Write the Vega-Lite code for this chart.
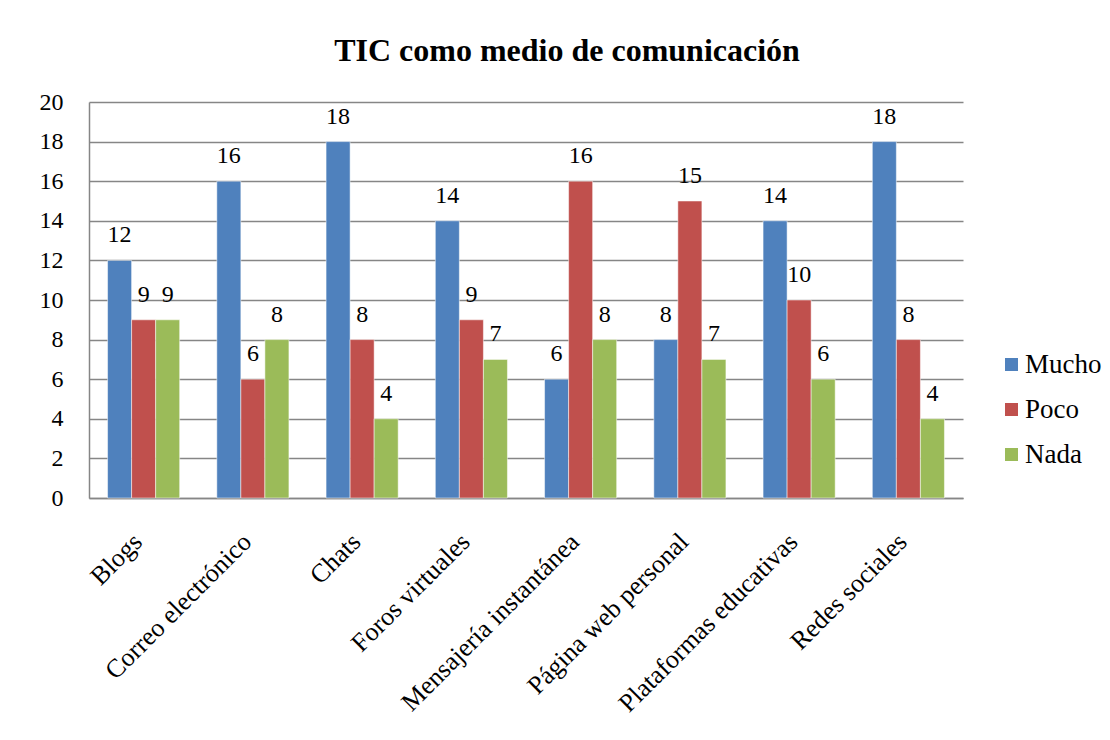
{
  "$schema": "https://vega.github.io/schema/vega-lite/v6.json",
  "width": 874,
  "height": 396,
  "autosize": {"type": "none"},
  "padding": {"left": 89, "top": 102, "right": 147, "bottom": 242},
  "background": "white",
  "title": {
    "text": "TIC como medio de comunicación",
    "font": "Liberation Serif",
    "fontSize": 32,
    "fontWeight": "bold",
    "color": "black",
    "anchor": "middle",
    "dx": 41,
    "offset": 22
  },
  "data": {
    "values": [
      {"cat": "Blogs", "serie": "Mucho", "v": 12},
      {"cat": "Blogs", "serie": "Poco", "v": 9},
      {"cat": "Blogs", "serie": "Nada", "v": 9},
      {"cat": "Correo electrónico", "serie": "Mucho", "v": 16},
      {"cat": "Correo electrónico", "serie": "Poco", "v": 6},
      {"cat": "Correo electrónico", "serie": "Nada", "v": 8},
      {"cat": "Chats", "serie": "Mucho", "v": 18},
      {"cat": "Chats", "serie": "Poco", "v": 8},
      {"cat": "Chats", "serie": "Nada", "v": 4},
      {"cat": "Foros virtuales", "serie": "Mucho", "v": 14},
      {"cat": "Foros virtuales", "serie": "Poco", "v": 9},
      {"cat": "Foros virtuales", "serie": "Nada", "v": 7},
      {"cat": "Mensajería instantánea", "serie": "Mucho", "v": 6},
      {"cat": "Mensajería instantánea", "serie": "Poco", "v": 16},
      {"cat": "Mensajería instantánea", "serie": "Nada", "v": 8},
      {"cat": "Página web personal", "serie": "Mucho", "v": 8},
      {"cat": "Página web personal", "serie": "Poco", "v": 15},
      {"cat": "Página web personal", "serie": "Nada", "v": 7},
      {"cat": "Plataformas educativas", "serie": "Mucho", "v": 14},
      {"cat": "Plataformas educativas", "serie": "Poco", "v": 10},
      {"cat": "Plataformas educativas", "serie": "Nada", "v": 6},
      {"cat": "Redes sociales", "serie": "Mucho", "v": 18},
      {"cat": "Redes sociales", "serie": "Poco", "v": 8},
      {"cat": "Redes sociales", "serie": "Nada", "v": 4}
    ]
  },
  "encoding": {
    "x": {
      "field": "cat",
      "type": "nominal",
      "sort": null,
      "title": null,
      "scale": {"paddingInner": 0.34, "paddingOuter": 0.17},
      "axis": {
        "labelAngle": -45,
        "labelFont": "Liberation Serif",
        "labelFontSize": 26,
        "labelColor": "black",
        "labelBaseline": "alphabetic",
        "labelPadding": 45,
        "ticks": false,
        "domainColor": "#868686",
        "domainWidth": 1.5,
        "grid": false,
        "labelLimit": 400
      }
    },
    "xOffset": {
      "field": "serie",
      "type": "nominal",
      "sort": ["Mucho", "Poco", "Nada"],
      "scale": {"paddingInner": 0, "paddingOuter": 0}
    },
    "y": {
      "field": "v",
      "type": "quantitative",
      "title": null,
      "scale": {"domain": [0, 20], "nice": false},
      "axis": {
        "values": [0, 2, 4, 6, 8, 10, 12, 14, 16, 18, 20],
        "labelFont": "Liberation Serif",
        "labelFontSize": 24,
        "labelColor": "black",
        "labelPadding": 26,
        "ticks": false,
        "domainColor": "#868686",
        "domainWidth": 1.5,
        "gridColor": "#868686",
        "gridWidth": 1.5
      }
    }
  },
  "layer": [
    {
      "mark": {"type": "bar", "stroke": "white", "strokeWidth": 0.5},
      "encoding": {
        "color": {
          "field": "serie",
          "type": "nominal",
          "sort": ["Mucho", "Poco", "Nada"],
          "title": null,
          "scale": {"domain": ["Mucho", "Poco", "Nada"], "range": ["#4F81BD", "#C0504D", "#9BBB59"]},
          "legend": {
            "orient": "none",
            "legendX": 909,
            "legendY": 249,
            "symbolType": "square",
            "symbolSize": 170,
            "symbolStrokeWidth": 0,
            "labelFont": "Liberation Serif",
            "labelFontSize": 27,
            "labelColor": "black",
            "rowPadding": 17,
            "labelOffset": 0
          }
        }
      }
    },
    {
      "mark": {
        "type": "text",
        "font": "Liberation Serif",
        "fontSize": 24,
        "color": "black",
        "baseline": "alphabetic",
        "dy": -18
      },
      "encoding": {"text": {"field": "v", "type": "quantitative"}}
    }
  ],
  "config": {"view": {"stroke": null}, "font": "Liberation Serif"}
}
